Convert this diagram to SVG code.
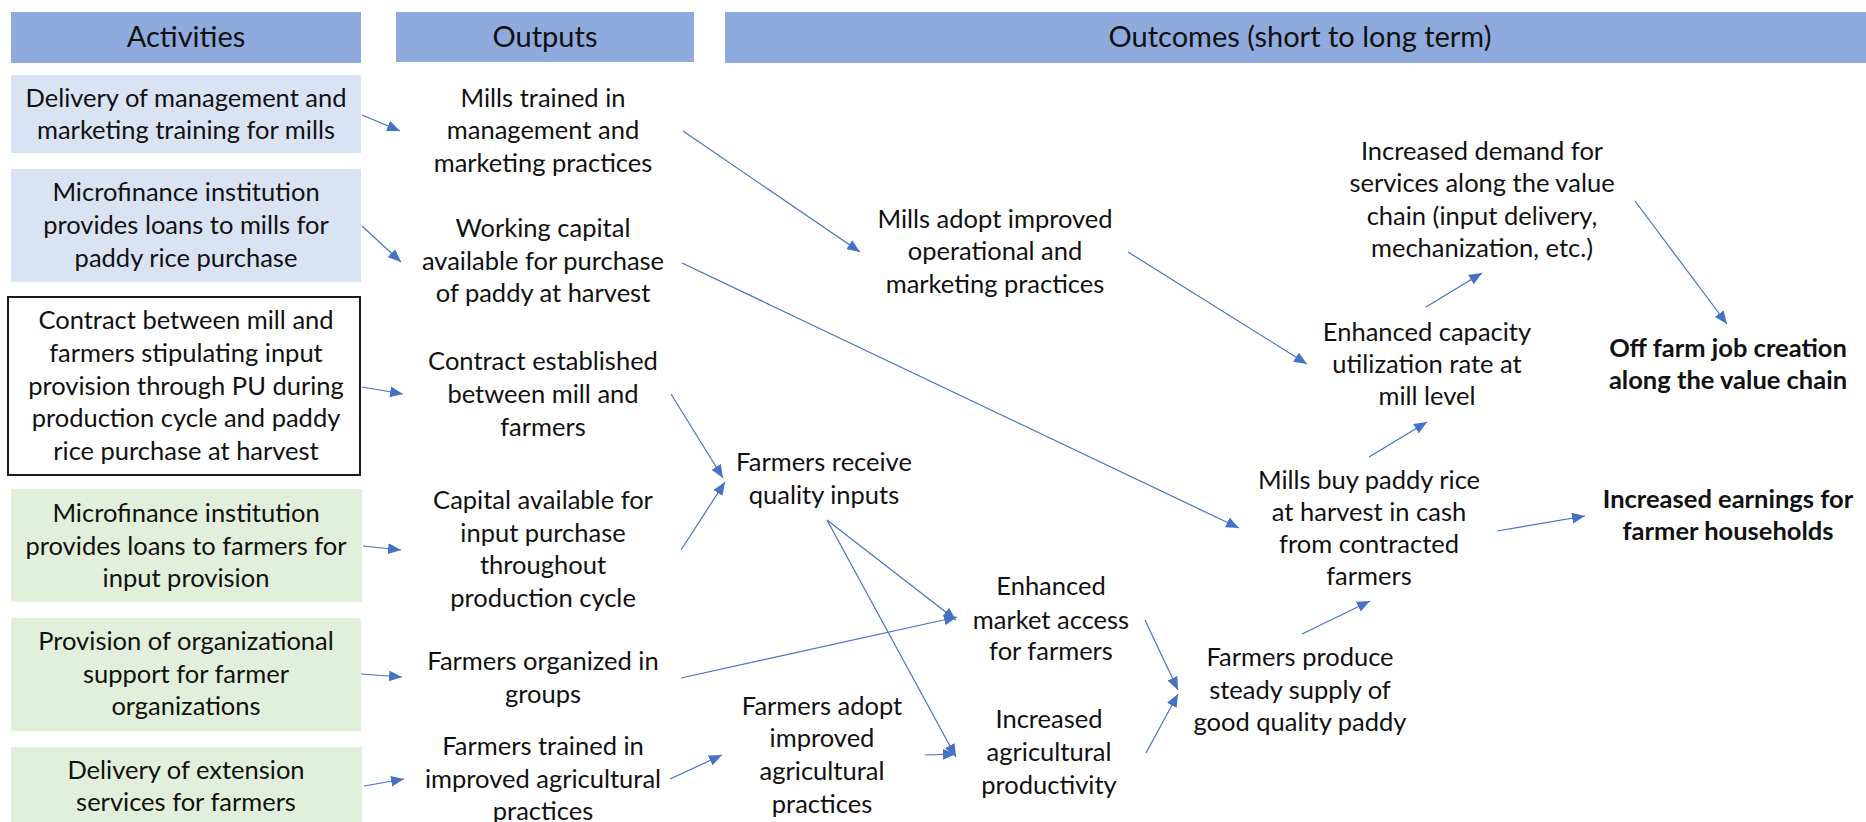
<svg xmlns="http://www.w3.org/2000/svg" width="1866" height="822" viewBox="0 0 1866 822">
<style>
.hdr{fill:#8FAADC}
.blue{fill:#DAE3F3}
.green{fill:#E2EFDA}
.outl{fill:#FFFFFF;stroke:#1a1a1a;stroke-width:2}
text{font-family:Lato,"Open Sans","Liberation Sans",sans-serif;font-size:25.5px;fill:#111;text-anchor:middle}
.h{font-size:29px}
.b{font-weight:bold}
.c{stroke:#4472C4;stroke-width:1.2;fill:none;marker-end:url(#ah)}
</style>
<defs>
<marker id="ah" viewBox="0 0 12 10" refX="12" refY="5" markerWidth="13" markerHeight="11" markerUnits="userSpaceOnUse" orient="auto">
<path d="M0,0 L12,5 L0,10 z" fill="#4472C4"/>
</marker>
</defs>
<rect width="1866" height="822" fill="#FFFFFF"/>

<g id="hdr-activities"><rect class="hdr" x="11" y="12" width="350" height="51"/><text class="h" x="186" y="47">Activities</text></g>
<g id="hdr-outputs"><rect class="hdr" x="396" y="12" width="298" height="50"/><text class="h" x="545" y="47">Outputs</text></g>
<g id="hdr-outcomes"><rect class="hdr" x="725" y="12" width="1141" height="51"/><text class="h" x="1300" y="47">Outcomes (short to long term)</text></g>

<g id="act1"><rect class="blue" x="11" y="75" width="350" height="78"/><text x="186" y="107">Delivery of management and<tspan x="186" y="139">marketing training for mills</tspan></text></g>
<g id="act2"><rect class="blue" x="11" y="169" width="350" height="113"/><text x="186" y="201">Microfinance institution<tspan x="186" y="234">provides loans to mills for</tspan><tspan x="186" y="267">paddy rice purchase</tspan></text></g>
<g id="act3"><rect class="outl" x="8" y="297" width="352" height="178"/><text x="186" y="329">Contract between mill and<tspan x="186" y="362">farmers stipulating input</tspan><tspan x="186" y="395">provision through PU during</tspan><tspan x="186" y="427">production cycle and paddy</tspan><tspan x="186" y="460">rice purchase at harvest</tspan></text></g>
<g id="act4"><rect class="green" x="11" y="489" width="351" height="113"/><text x="186" y="522">Microfinance institution<tspan x="186" y="555">provides loans to farmers for</tspan><tspan x="186" y="587">input provision</tspan></text></g>
<g id="act5"><rect class="green" x="11" y="618" width="350" height="113"/><text x="186" y="650">Provision of organizational<tspan x="186" y="683">support for farmer</tspan><tspan x="186" y="715">organizations</tspan></text></g>
<g id="act6"><rect class="green" x="11" y="747" width="351" height="75"/><text x="186" y="779">Delivery of extension<tspan x="186" y="811">services for farmers</tspan></text></g>

<g id="out1"><text x="543" y="107">Mills trained in<tspan x="543" y="139">management and</tspan><tspan x="543" y="172">marketing practices</tspan></text></g>
<g id="out2"><text x="543" y="237">Working capital<tspan x="543" y="270">available for purchase</tspan><tspan x="543" y="302">of paddy at harvest</tspan></text></g>
<g id="out3"><text x="543" y="370">Contract established<tspan x="543" y="403">between mill and</tspan><tspan x="543" y="436">farmers</tspan></text></g>
<g id="out4"><text x="543" y="509">Capital available for<tspan x="543" y="542">input purchase</tspan><tspan x="543" y="574">throughout</tspan><tspan x="543" y="607">production cycle</tspan></text></g>
<g id="out5"><text x="543" y="670">Farmers organized in<tspan x="543" y="703">groups</tspan></text></g>
<g id="out6"><text x="543" y="755">Farmers trained in<tspan x="543" y="788">improved agricultural</tspan><tspan x="543" y="820">practices</tspan></text></g>

<g id="oc-mills-adopt"><text x="995" y="228">Mills adopt improved<tspan x="995" y="260">operational and</tspan><tspan x="995" y="293">marketing practices</tspan></text></g>
<g id="oc-receive-inputs"><text x="824" y="471">Farmers receive<tspan x="824" y="504">quality inputs</tspan></text></g>
<g id="oc-market-access"><text x="1051" y="595">Enhanced<tspan x="1051" y="629">market access</tspan><tspan x="1051" y="660">for farmers</tspan></text></g>
<g id="oc-farmers-adopt"><text x="822" y="715">Farmers adopt<tspan x="822" y="747">improved</tspan><tspan x="822" y="780">agricultural</tspan><tspan x="822" y="813">practices</tspan></text></g>
<g id="oc-productivity"><text x="1049" y="728">Increased<tspan x="1049" y="761">agricultural</tspan><tspan x="1049" y="794">productivity</tspan></text></g>
<g id="oc-steady-supply"><text x="1300" y="666">Farmers produce<tspan x="1300" y="699">steady supply of</tspan><tspan x="1300" y="731">good quality paddy</tspan></text></g>
<g id="oc-mills-buy"><text x="1369" y="489">Mills buy paddy rice<tspan x="1369" y="521">at harvest in cash</tspan><tspan x="1369" y="553">from contracted</tspan><tspan x="1369" y="585">farmers</tspan></text></g>
<g id="oc-capacity"><text x="1427" y="341">Enhanced capacity<tspan x="1427" y="373">utilization rate at</tspan><tspan x="1427" y="405">mill level</tspan></text></g>
<g id="oc-demand"><text x="1482" y="160">Increased demand for<tspan x="1482" y="192">services along the value</tspan><tspan x="1482" y="225">chain (input delivery,</tspan><tspan x="1482" y="257">mechanization, etc.)</tspan></text></g>
<g id="oc-offfarm"><text class="b" x="1728" y="357">Off farm job creation<tspan x="1728" y="389">along the value chain</tspan></text></g>
<g id="oc-earnings"><text class="b" x="1728" y="508">Increased earnings for<tspan x="1728" y="540">farmer households</tspan></text></g>

<g id="connectors">
<line class="c" x1="362" y1="115" x2="400" y2="131"/>
<line class="c" x1="362" y1="226" x2="401" y2="262"/>
<line class="c" x1="362" y1="387" x2="403" y2="394"/>
<line class="c" x1="363" y1="546" x2="401" y2="550"/>
<line class="c" x1="361" y1="674" x2="402" y2="677"/>
<line class="c" x1="364" y1="786" x2="404" y2="779"/>
<line class="c" x1="683" y1="131" x2="860" y2="252"/>
<line class="c" x1="682" y1="263" x2="1239" y2="528"/>
<line class="c" x1="671" y1="394" x2="723" y2="478"/>
<line class="c" x1="681" y1="550" x2="725" y2="482"/>
<line class="c" x1="681" y1="678" x2="957" y2="617"/>
<line class="c" x1="670" y1="779" x2="722" y2="755"/>
<line class="c" x1="827" y1="520" x2="956" y2="620"/>
<line class="c" x1="827" y1="520" x2="956" y2="757"/>
<line class="c" x1="925" y1="755" x2="956" y2="754"/>
<line class="c" x1="1145" y1="620" x2="1178" y2="690"/>
<line class="c" x1="1146" y1="753" x2="1178" y2="694"/>
<line class="c" x1="1302" y1="634" x2="1370" y2="601"/>
<line class="c" x1="1369" y1="457" x2="1427" y2="422"/>
<line class="c" x1="1128" y1="252" x2="1307" y2="364"/>
<line class="c" x1="1426" y1="307" x2="1482" y2="273"/>
<line class="c" x1="1635" y1="201" x2="1727" y2="324"/>
<line class="c" x1="1497" y1="531" x2="1585" y2="516"/>
</g>
</svg>
